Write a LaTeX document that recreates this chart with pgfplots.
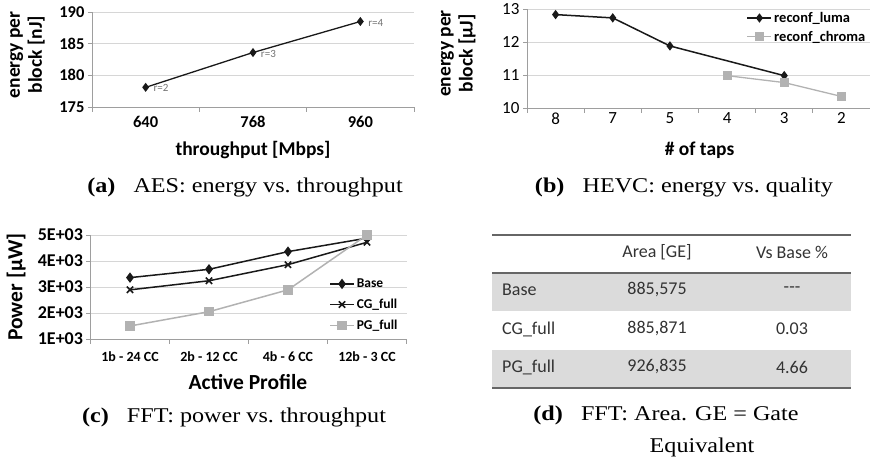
\documentclass[border=0pt]{standalone}
\usepackage{fontspec}
\setmainfont{Liberation Serif}
\setsansfont{Carlito}
\usepackage{pgfplots}
\pgfplotsset{compat=1.18}
\newcommand{\fs}[2][]{\fontsize{#2}{\ifx\relax#1\relax#2\else#1\fi}\selectfont}
\definecolor{axgray}{gray}{0.62}
\definecolor{grdgray}{gray}{0.84}
\definecolor{sergray}{gray}{0.70}
\definecolor{rowgray}{gray}{0.86}
\definecolor{rulegray}{gray}{0.40}
\pgfplotsset{
  exc/.style={scale only axis, anchor=south west, clip=false,
    axis x line*=bottom, axis y line*=left,
    axis line style={axgray, line width=0.9pt},
    ymajorgrids, grid style={grdgray, line width=0.9pt},
    tick align=outside, major tick length=4pt, minor tick length=5pt,
    ytick style={axgray, line width=0.9pt},
    major x tick style={draw=none},
    minor x tick style={axgray, line width=0.9pt},
    /pgf/number format/assume math mode=true,
    label style={font=\sffamily\bfseries\fs[22]{19.5}, align=center},
    legend cell align=left,
    legend image code/.code={\draw[mark repeat=2, mark phase=2] plot coordinates {(0pt,0pt) (12pt,0pt) (24pt,0pt)};},
  },
  blk/.style={black!90, line width=1.5pt, mark=diamond*, mark size=4pt, mark options={solid, black!90}},
  gry/.style={sergray, line width=1.5pt, mark=square*, mark size=4pt, mark options={solid, sergray}},
}
\begin{document}
\begin{tikzpicture}[x=1pt,y=1pt]
\useasboundingbox (0pt,0pt) rectangle (870pt,462pt);

% (a) AES
\begin{axis}[exc, at={(92pt,355pt)}, width=322pt, height=95pt,
  xmin=-0.5, xmax=2.5, ymin=175, ymax=190, ytick={175,180,185,190},
  xtick={0,1,2}, xticklabels={640,768,960}, minor xtick={-0.5,0.5,1.5,2.5},
  ticklabel style={font=\sffamily\bfseries\fs{16.5}},
  xticklabel style={yshift=-2pt},
  xlabel={throughput [Mbps]}, ylabel={energy per\\block [nJ]},
  xlabel style={at={(axis description cs:0.5,-0.45)}, anchor=center},
  ylabel style={at={(axis description cs:-0.2,0.55)}, anchor=center},
]
\addplot[black!90, line width=1.3pt, mark=diamond*, mark size=3.5pt, mark options={solid},
  nodes near coords, point meta=explicit symbolic,
  nodes near coords style={anchor=west, xshift=4pt, yshift=-1pt, font=\sffamily\fs{11}, text=black!55}]
  coordinates {(0,178.1)[r=2] (1,183.6)[r=3] (2,188.5)[r=4]};
\end{axis}

% (b) HEVC
\begin{axis}[exc, at={(527pt,354pt)}, width=343pt, height=99pt,
  xmin=-0.5, xmax=5.5, ymin=10, ymax=13, ytick={10,11,12,13},
  xtick={0,1,2,3,4,5}, xticklabels={8,7,5,4,3,2}, minor xtick={-0.5,0.5,1.5,2.5,3.5,4.5,5.5},
  ticklabel style={font=\sffamily\fs{17}},
  xticklabel style={yshift=3pt},
  xlabel={\# of taps}, ylabel={energy per\\block [µJ]},
  xlabel style={at={(axis description cs:0.503,-0.424)}, anchor=center},
  ylabel style={at={(axis description cs:-0.2,0.55)}, anchor=center},
  legend style={draw=none, fill=none, at={(0.64,0.99)}, anchor=north west,
    font=\sffamily\bfseries\fs{14.5}, row sep=3pt, inner sep=0pt},
]
\addplot[blk, mark size=3.5pt] coordinates {(0,12.83) (1,12.73) (2,11.88) (4,10.98)};
\addlegendentry{reconf\_luma}
\addplot[gry, line width=1.3pt, mark size=3.8pt] coordinates {(3,10.98) (4,10.77) (5,10.35)};
\addlegendentry{reconf\_chroma}
\end{axis}

% (c) FFT power
\begin{axis}[exc, at={(90.5pt,123pt)}, width=316pt, height=104pt,
  xmin=-0.5, xmax=3.5, ymin=1000, ymax=5000, ytick={1000,2000,3000,4000,5000},
  yticklabels={1E+03,2E+03,3E+03,4E+03,5E+03},
  xtick={0,1,2,3}, xticklabels={1b - 24 CC,2b - 12 CC,4b - 6 CC,12b - 3 CC},
  minor xtick={-0.5,0.5,1.5,2.5,3.5},
  yticklabel style={font=\sffamily\bfseries\fs{18}},
  xticklabel style={font=\sffamily\bfseries\fs{14}, yshift=-5pt},
  xlabel={Active Profile}, ylabel={Power [µW]},
  label style={font=\sffamily\bfseries\fs{21.5}},
  xlabel style={at={(axis description cs:0.498,-0.413)}, anchor=center},
  ylabel style={at={(axis description cs:-0.235,0.5)}, anchor=center},
  legend style={draw=none, fill=none, at={(0.755,0.60)}, anchor=north west,
    font=\sffamily\bfseries\fs{13.5}, row sep=6pt, inner sep=0pt},
]
\addplot[blk] coordinates {(0,3360) (1,3680) (2,4360) (3,4880)};
\addlegendentry{Base}
\addplot[black!90, line width=1.5pt, mark=x, mark size=4.5pt, mark options={solid, line width=1.6pt}] coordinates {(0,2890) (1,3240) (2,3860) (3,4720)};
\addlegendentry{CG\_full}
\addplot[gry] coordinates {(0,1500) (1,2050) (2,2890) (3,5000)};
\addlegendentry{PG\_full}
\end{axis}

% (d) table
\fill[rowgray] (492pt,151pt) rectangle (851pt,189pt);
\fill[rowgray] (492pt,74pt) rectangle (851pt,112pt);
\draw[rulegray, line width=2pt] (492pt,227pt) -- (851pt,227pt);
\draw[rulegray, line width=2pt] (492pt,189pt) -- (851pt,189pt);
\draw[rulegray, line width=2pt] (492pt,74pt) -- (851pt,74pt);
\begin{scope}[every node/.style={font=\sffamily\fs{18}, text=black!80, inner sep=0pt}]
\node at (657pt,210pt) {Area [GE]};
\node at (792pt,210pt) {Vs Base \%};
\node[anchor=west] at (502pt,172pt) {Base};
\node at (657pt,172pt) {885,575};
\node at (792pt,172pt) {-{}-{}-};
\node[anchor=west] at (502pt,133pt) {CG\_full};
\node at (657pt,133pt) {885,871};
\node at (792pt,133pt) {0.03};
\node[anchor=west] at (502pt,95pt) {PG\_full};
\node at (657pt,95pt) {926,835};
\node at (792pt,95pt) {4.66};
\end{scope}

% captions
\begin{scope}[every node/.style={font=\fs{21}, xscale=1.15, inner sep=0pt}]
\node at (245pt,275pt) {\textbf{(a)}\hspace{0.75em}AES: energy vs.\ throughput};
\node at (684pt,275pt) {\textbf{(b)}\hspace{0.75em}HEVC: energy vs.\ quality};
\node at (234pt,45pt) {\textbf{(c)}\hspace{0.75em}FFT: power vs.\ throughput};
\node at (666pt,47pt) {\textbf{(d)}\hspace{0.75em}FFT: Area. GE = Gate};
\node at (702pt,15pt) {Equivalent};
\end{scope}
\end{tikzpicture}
\end{document}
